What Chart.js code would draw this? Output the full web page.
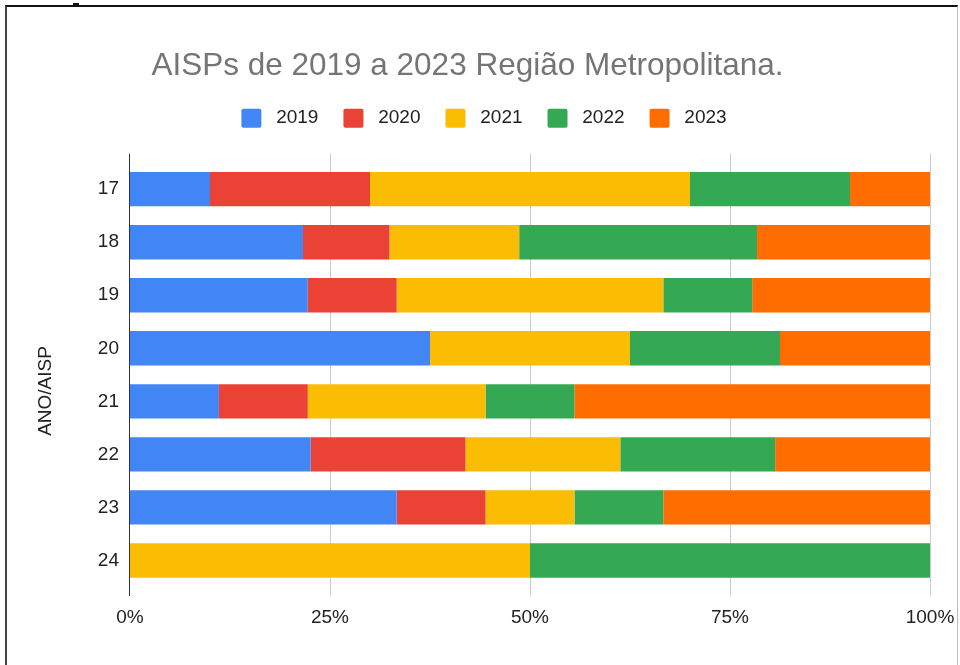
<!DOCTYPE html>
<html><head><meta charset="utf-8">
<script src="https://cdn.jsdelivr.net/npm/chart.js@4.4.1/dist/chart.umd.min.js"></script>
<style>
html,body{margin:0;padding:0;background:#fff;overflow:hidden;}
#wrap{position:relative;width:960px;height:665px;overflow:hidden;}
canvas{position:absolute;left:0;top:0;}
#frame{position:absolute;left:5px;top:5px;width:953px;height:700px;border-top:2px solid #111;border-left:2px solid #444;border-right:1px solid #bbb;box-sizing:border-box;pointer-events:none;}
#mark{position:absolute;left:73px;top:3px;width:6px;height:3px;background:#111;}
</style></head><body>
<div id="wrap"><canvas id="c" width="960" height="665"></canvas><div id="frame"></div><div id="mark"></div></div>
<script>
// ---- data ----
const categories = ['17','18','19','20','21','22','23','24'];
const seriesNames = ['2019','2020','2021','2022','2023'];
const s2019 = [1, 8, 2, 6, 1, 7, 3, 0];
const s2020 = [2, 4, 1, 0, 1, 6, 1, 0];
const s2021 = [4, 6, 3, 4, 2, 6, 1, 1];
const s2022 = [2, 11, 1, 3, 1, 6, 1, 1];
const s2023 = [1, 8, 2, 3, 4, 6, 3, 0];
const xTickValues = [0, 25, 50, 75, 100];
const chartTitle = 'AISPs de 2019 a 2023 Região Metropolitana.';
const yAxisTitle = 'ANO/AISP';

const seriesValues = [s2019, s2020, s2021, s2022, s2023];
const colors = ['#4285F4', '#EA4335', '#FBBC04', '#34A853', '#FF6D01'];
const totals = categories.map((_, i) => seriesValues.reduce((a, s) => a + s[i], 0));

const datasets = seriesNames.map((name, k) => ({
  label: name,
  data: seriesValues[k].map((v, i) => totals[i] ? v / totals[i] * 100 : 0),
  backgroundColor: colors[k],
  borderWidth: 0,
  barPercentage: 0.648,
  categoryPercentage: 1
}));

const FONT = "'Liberation Sans', Arial, sans-serif";

const extras = {
  id: 'extras',
  afterLayout(chart) {
    const lg = chart.legend;
    lg.left += 16.5; lg.right += 16.5;
  },
  beforeDatasetsDraw(chart) {
    const {ctx, chartArea, scales: {x}} = chart;
    ctx.save();
    ctx.lineWidth = 1;
    ctx.strokeStyle = '#cccccc';
    x.ticks.forEach(t => {
      if (t.value === 0) return;
      const px = Math.round(x.getPixelForValue(t.value)) + 0.5;
      ctx.beginPath(); ctx.moveTo(px, chartArea.top - 9); ctx.lineTo(px, chartArea.bottom + 9); ctx.stroke();
    });
    ctx.restore();
  },
  afterDatasetsDraw(chart) {
    const {ctx, chartArea, scales: {x}} = chart;
    ctx.save();
    ctx.lineWidth = 1;
    ctx.strokeStyle = '#333333';
    const px = Math.round(x.getPixelForValue(0)) - 0.5;
    ctx.beginPath(); ctx.moveTo(px, chartArea.top - 9); ctx.lineTo(px, chartArea.bottom + 9); ctx.stroke();
    // y axis title
    ctx.translate(46, 391);
    ctx.rotate(-Math.PI / 2);
    ctx.fillStyle = '#222';
    ctx.font = '19px ' + FONT;
    ctx.textAlign = 'center';
    ctx.textBaseline = 'middle';
    ctx.fillText(yAxisTitle, 0, 0);
    ctx.restore();
  }
};

new Chart(document.getElementById('c'), {
  type: 'bar',
  data: { labels: categories, datasets },
  options: {
    indexAxis: 'y',
    responsive: false,
    animation: false,
    layout: { padding: { left: 5, right: 30, top: 0, bottom: 0 } },
    plugins: {
      title: {
        display: true,
        text: chartTitle,
        color: '#757575',
        font: { family: FONT, size: 31.5, weight: 'normal', lineHeight: 1.1 },
        padding: { top: 49, bottom: 0 }
      },
      legend: {
        display: true,
        position: 'top',
        labels: {
          color: '#222',
          font: { family: FONT, size: 19 },
          boxWidth: 20,
          boxHeight: 19,
          padding: 25,
          useBorderRadius: true,
          borderRadius: 2,
          generateLabels(chart) {
            return Chart.defaults.plugins.legend.labels.generateLabels(chart).map(l => ({ ...l, text: ' ' + l.text, lineWidth: 0 }));
          }
        }
      },
      tooltip: { enabled: false }
    },
    scales: {
      x: {
        stacked: true,
        min: 0, max: 100,
        afterBuildTicks(s) { s.ticks = xTickValues.map(v => ({ value: v })); },
        afterFit(s) { s.height = 78; s.paddingLeft = 0; s.paddingRight = 0; },
        grid: { display: false, drawTicks: false },
        border: { display: false },
        ticks: {
          color: '#222',
          font: { family: FONT, size: 19 },
          padding: 19,
          maxRotation: 0,
          callback: v => v + '%'
        }
      },
      xTop: {
        type: 'linear',
        position: 'top',
        display: true,
        afterFit(s) { s.height = 25; s.paddingLeft = 0; s.paddingRight = 0; },
        grid: { display: false, drawTicks: false },
        border: { display: false },
        ticks: { display: false }
      },
      y: {
        stacked: true,
        afterFit(s) { s.width = 125; s.paddingTop = 0; s.paddingBottom = 0; },
        grid: { display: false, drawTicks: false },
        border: { display: false },
        ticks: {
          color: '#222',
          font: { family: FONT, size: 19 },
          padding: 11
        }
      }
    }
  },
  plugins: [extras]
});
</script>
</body></html>
